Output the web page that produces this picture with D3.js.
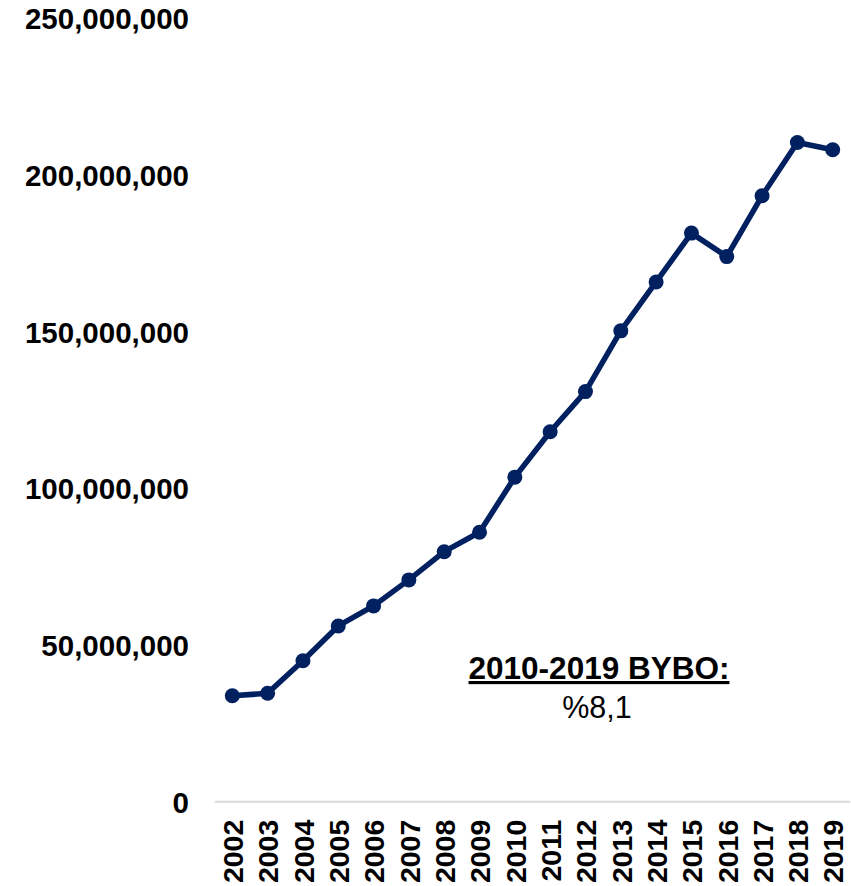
<!DOCTYPE html>
<html><head><meta charset="utf-8">
<script src="https://cdn.jsdelivr.net/npm/d3@7"></script>
<style>body{margin:0;background:#fff}svg{display:block}</style>
</head><body>
<svg id="c" width="851" height="886"></svg>
<script>
const years = ["2002","2003","2004","2005","2006","2007","2008","2009","2010","2011","2012","2013","2014","2015","2016","2017","2018","2019"];
const values = [33.8e6,34.6e6,45.0e6,56.1e6,62.5e6,70.8e6,79.8e6,86.0e6,103.6e6,118.1e6,130.9e6,150.3e6,165.9e6,181.5e6,174.0e6,193.4e6,210.4e6,208.1e6];
const yTicks = [0,50e6,100e6,150e6,200e6,250e6];
const noteTitle = "2010-2019 BYBO:";
const noteValue = "%8,1";

const svg = d3.select("#c");
const font = "'Liberation Sans', Arial, sans-serif";
const x = d3.scalePoint().domain(years).range([232.3, 832.7]);
const y = d3.scaleLinear().domain([0, 250e6]).range([801.7, 18.5]);
const color = "#002060";

// y tick labels
const yAxis = d3.axisLeft(y).tickValues(yTicks).tickSize(0).tickPadding(0)
  .tickFormat(d => d3.format(",")(d));
const gy = svg.append("g").attr("transform", "translate(189,0)").call(yAxis);
gy.select(".domain").remove();
gy.selectAll("text").attr("font-family", font).attr("font-size", 29.5).attr("font-weight", "bold")
  .attr("fill", "#000").attr("dy", "0.35em");

// x axis baseline
svg.append("line").attr("x1", 214.7).attr("x2", 850.3).attr("y1", y(0)).attr("y2", y(0))
  .attr("stroke", "#d9d9d9").attr("stroke-width", 2);

// x labels
const xAxis = d3.axisBottom(x).tickSize(0).tickPadding(0);
const gx = svg.append("g").attr("transform", `translate(0,${y(0)})`).call(xAxis);
gx.select(".domain").remove();
gx.selectAll("text").attr("font-family", font).attr("font-size", 28.5).attr("font-weight", "bold")
  .attr("fill", "#000").attr("text-anchor", "end")
  .attr("transform", "rotate(-90)").attr("x", -18).attr("y", 0).attr("dy", "0.36em");

// line
const line = d3.line().x((d, i) => x(years[i])).y(d => y(d));
svg.append("path").datum(values).attr("d", line).attr("fill", "none")
  .attr("stroke", color).attr("stroke-width", 5.5).attr("stroke-linejoin", "round");
svg.selectAll("circle.pt").data(values).join("circle").attr("class", "pt")
  .attr("cx", (d, i) => x(years[i])).attr("cy", d => y(d)).attr("r", 7.5).attr("fill", color);

// annotation
const tx = 599;
svg.append("text").attr("x", tx).attr("y", 679).attr("text-anchor", "middle")
  .attr("font-family", font).attr("font-size", 31.5).attr("font-weight", "bold")
  .attr("text-decoration", "underline").attr("fill", "#000").text(noteTitle);
svg.append("text").attr("x", tx - 2).attr("y", 718).attr("text-anchor", "middle")
  .attr("font-family", font).attr("font-size", 30.5).attr("fill", "#000").text(noteValue);
</script>
</body></html>
